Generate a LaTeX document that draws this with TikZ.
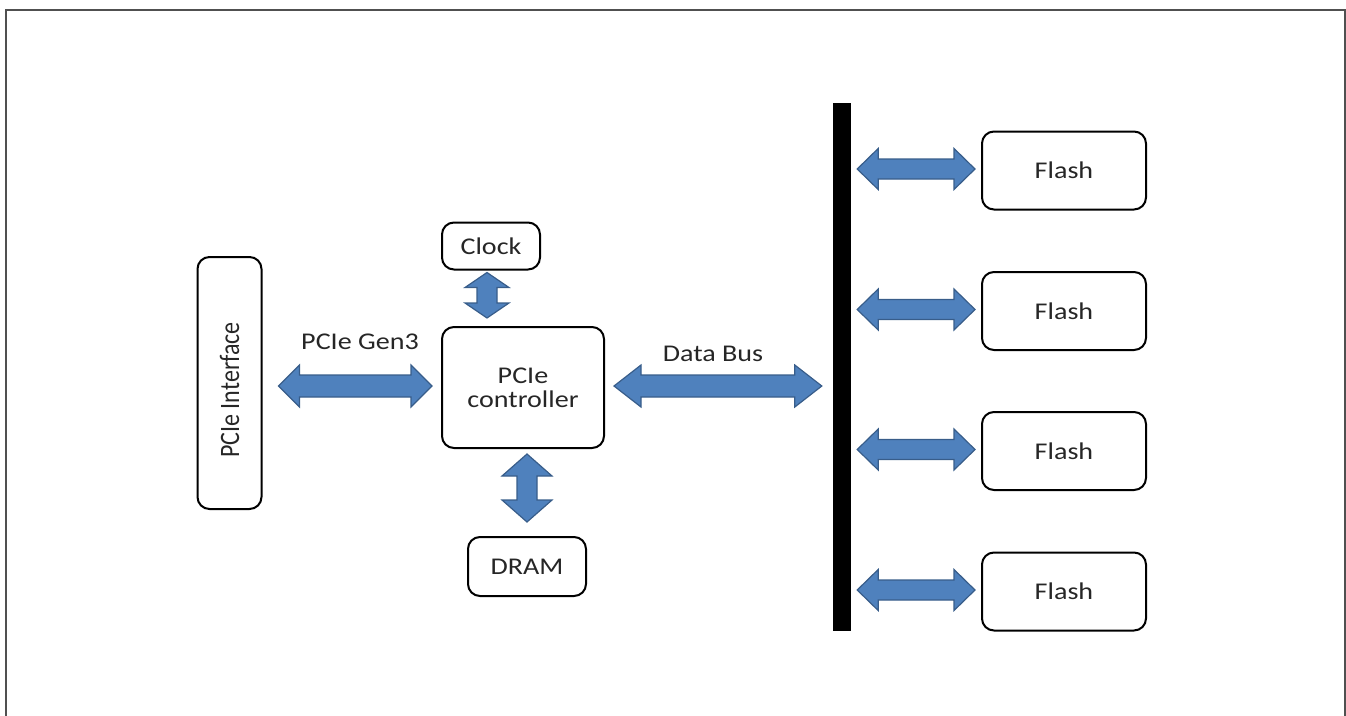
\documentclass[tikz,border=0pt]{standalone}
\usepackage{fontspec}
\setmainfont{Carlito}
\usepackage{graphicx}
\usetikzlibrary{calc}
\definecolor{arrowfill}{HTML}{4F81BD}
\definecolor{arrowline}{HTML}{385D8A}
\definecolor{framegray}{HTML}{505050}
\newcommand\tx[1]{\scalebox{1.17}[1]{#1}}
% block double arrow: #1 start, #2 end, #3 head length, #4 half head width, #5 half shaft width
\newcommand\barrow[5]{%
  \coordinate (bA) at ($(#1)!#3!(#2)$);
  \coordinate (bB) at ($(#2)!#3!(#1)$);
  \filldraw[blockarrow] (#1)
    -- ($(bA)!#4!90:(#2)$) -- ($(bA)!#5!90:(#2)$)
    -- ($(bB)!#5!-90:(#1)$) -- ($(bB)!#4!-90:(#1)$)
    -- (#2)
    -- ($(bB)!#4!90:(#1)$) -- ($(bB)!#5!90:(#1)$)
    -- ($(bA)!#5!-90:(#2)$) -- ($(bA)!#4!-90:(#2)$)
    -- cycle;}
\tikzset{
  blockarrow/.style={fill=arrowfill, draw=arrowline, line width=1.2pt, line join=miter},
  box/.style={draw=black, line width=2pt, rounded corners=12pt, inner sep=0pt,
    text=black!85, font=\fontsize{24}{25}\selectfont, align=center},
  lbl/.style={text=black!85, font=\fontsize{24}{25}\selectfont, inner sep=0pt}
}
\begin{document}
\begin{tikzpicture}[x=1pt,y=-1pt]
\useasboundingbox (0,0) rectangle (1346,715);
\draw[framegray, line width=2pt] (6,716) -- (6,10) -- (1345,10) -- (1345,716);

% boxes
\node[box, minimum width=64pt, minimum height=252pt] (iface) at (229.5,383) {};
\node[lbl, rotate=90] (ifacetext) at (229.5,390) {\scalebox{1}[1.17]{PCIe Interface}};
\node[box, minimum width=98pt, minimum height=47pt] (clock) at (491,246) {\tx{Clock}};
\node[box, minimum width=162pt, minimum height=121pt] (ctrl) at (523,387.5) {\tx{PCIe}\\[-1pt]\tx{controller}};
\node[box, minimum width=118pt, minimum height=59pt] (dram) at (527,566.5) {\tx{DRAM}};
\node[fill=black, minimum width=18pt, minimum height=528pt, inner sep=0pt] (bus) at (842,367) {};
\foreach \i/\y in {1/170.5,2/311,3/451,4/591.5}{
  \node[box, minimum width=164pt, minimum height=78pt] (flash\i) at (1064,\y) {\tx{Flash}};
}

% labels
\node[lbl] (gen3) at (360,342) {\tx{PCIe Gen3}};
\node[lbl] (dbus) at (713,354) {\tx{Data Bus}};

% arrow end points
\coordinate (g1) at ($(iface.east |- 0,386)+(16,0)$);
\coordinate (g2) at ($(ctrl.west |- 0,386)+(-9,0)$);
\coordinate (d1) at ($(ctrl.east |- 0,386)+(9,0)$);
\coordinate (d2) at ($(bus.west |- 0,386)+(-11,0)$);
\coordinate (c1) at ($(clock.south)+(-4,2)$);
\coordinate (c2) at ($(ctrl.north -| c1)+(0,-8)$);
\coordinate (r1) at ($(ctrl.south -| dram.north)+(0,5)$);
\coordinate (r2) at ($(dram.north)+(0,-14)$);

\barrow{g1}{g2}{21pt}{21pt}{11pt}
\barrow{d1}{d2}{27pt}{21pt}{11pt}
\barrow{c1}{c2}{15pt}{22pt}{10pt}
\barrow{r1}{r2}{22pt}{25pt}{10pt}
\foreach \i in {1,...,4}{
  \coordinate (f1) at ($(bus.east |- flash\i.west)+(6,-1.5)$);
  \coordinate (f2) at ($(flash\i.west)+(-6,-1.5)$);
  \barrow{f1}{f2}{21pt}{20.5pt}{10pt}
}
\end{tikzpicture}
\end{document}
